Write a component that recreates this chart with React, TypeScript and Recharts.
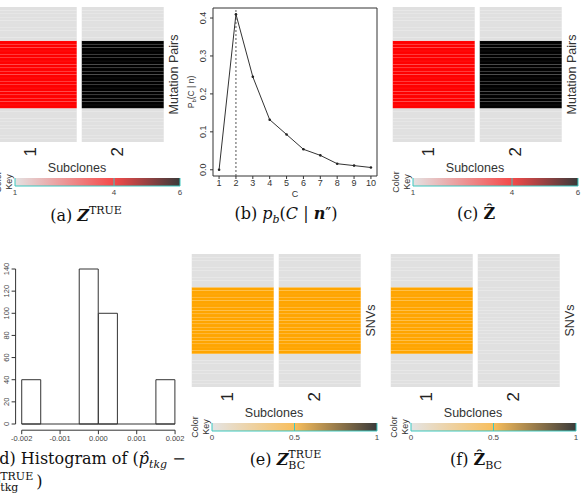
import React from "react";
import {
  BarChart,
  Bar,
  Cell,
  XAxis,
  YAxis,
  LineChart,
  Line,
  ComposedChart,
  ReferenceLine,
  ReferenceArea,
} from "recharts";

const SANS = "'Liberation Sans', Arial, Helvetica, sans-serif";
const SERIF = "'DejaVu Serif', 'Liberation Serif', serif";
const TEAL = "#3cc8c0";

// (b) posterior of number of subclones
const clusterCounts = [1, 2, 3, 4, 5, 6, 7, 8, 9, 10];
const posteriorProb = [0.0, 0.41, 0.245, 0.132, 0.093, 0.054, 0.038, 0.016, 0.011, 0.006];
const probTicks = [0, 0.1, 0.2, 0.3, 0.4];
const chosenC = 2;

// (d) histogram of p_hat - p_true
const binMids = [-0.00175, -0.00125, -0.00075, -0.00025, 0.00025, 0.00075, 0.00125, 0.00175];
const binCounts = [40, 0, 0, 140, 100, 0, 0, 40];
const diffTicks = [-0.002, -0.001, 0, 0.001, 0.002];
const countTicks = [0, 20, 40, 60, 80, 100, 120, 140];

// heatmaps (rows listed top to bottom)
const subclones = ["1", "2"];
const zTrue1 = [1, 1, 1, 1, 1, 1, 1, 1, 1, 1, 4, 4, 4, 4, 4, 4, 4, 4, 4, 4, 4, 4, 4, 4, 4, 4, 4, 4, 4, 4, 1, 1, 1, 1, 1, 1, 1, 1, 1, 1];
const zTrue2 = [1, 1, 1, 1, 1, 1, 1, 1, 1, 1, 6, 6, 6, 6, 6, 6, 6, 6, 6, 6, 6, 6, 6, 6, 6, 6, 6, 6, 6, 6, 1, 1, 1, 1, 1, 1, 1, 1, 1, 1];
const zHat1 = [1, 1, 1, 1, 1, 1, 1, 1, 1, 1, 4, 4, 4, 4, 4, 4, 4, 4, 4, 4, 4, 4, 4, 4, 4, 4, 4, 4, 4, 4, 1, 1, 1, 1, 1, 1, 1, 1, 1, 1];
const zHat2 = [1, 1, 1, 1, 1, 1, 1, 1, 1, 1, 6, 6, 6, 6, 6, 6, 6, 6, 6, 6, 6, 6, 6, 6, 6, 6, 6, 6, 6, 6, 1, 1, 1, 1, 1, 1, 1, 1, 1, 1];
const zBcTrue1 = [0, 0, 0, 0, 0, 0, 0, 0, 0, 0, 0.5, 0.5, 0.5, 0.5, 0.5, 0.5, 0.5, 0.5, 0.5, 0.5, 0.5, 0.5, 0.5, 0.5, 0.5, 0.5, 0.5, 0.5, 0.5, 0.5, 0, 0, 0, 0, 0, 0, 0, 0, 0, 0];
const zBcTrue2 = [0, 0, 0, 0, 0, 0, 0, 0, 0, 0, 0.5, 0.5, 0.5, 0.5, 0.5, 0.5, 0.5, 0.5, 0.5, 0.5, 0.5, 0.5, 0.5, 0.5, 0.5, 0.5, 0.5, 0.5, 0.5, 0.5, 0, 0, 0, 0, 0, 0, 0, 0, 0, 0];
const zBcHat1 = [0, 0, 0, 0, 0, 0, 0, 0, 0, 0, 0.5, 0.5, 0.5, 0.5, 0.5, 0.5, 0.5, 0.5, 0.5, 0.5, 0.5, 0.5, 0.5, 0.5, 0.5, 0.5, 0.5, 0.5, 0.5, 0.5, 0, 0, 0, 0, 0, 0, 0, 0, 0, 0];
const zBcHat2 = [0, 0, 0, 0, 0, 0, 0, 0, 0, 0, 0, 0, 0, 0, 0, 0, 0, 0, 0, 0, 0, 0, 0, 0, 0, 0, 0, 0, 0, 0, 0, 0, 0, 0, 0, 0, 0, 0, 0, 0];
const zKeyDomain = [1, 6];
const zKeyTicks = [1, 4, 6];
const bcKeyDomain = [0, 1];
const bcKeyTicks = [0, 0.5, 1];

// colour scales
const zCellStops: [number, string][] = [[1, "#e0e0e0"], [4, "#ff0000"], [6, "#000000"]];
const zKeyStops: [number, string][] = [[1, "#e4e2e2"], [4, "#f44a4a"], [6, "#3a3a3a"]];
const bcCellStops: [number, string][] = [[0, "#e0e0e0"], [0.5, "#ffa500"], [1, "#000000"]];
const bcKeyStops: [number, string][] = [[0, "#e4e4e4"], [0.5, "#f8be5c"], [1, "#3a3a3a"]];

function hexToRgb(h: string) {
  const n = parseInt(h.slice(1), 16);
  return [(n >> 16) & 255, (n >> 8) & 255, n & 255];
}

function colorAt(v: number, stops: [number, string][]) {
  for (let i = 0; i < stops.length - 1; i++) {
    const [v0, c0] = stops[i];
    const [v1, c1] = stops[i + 1];
    if (v <= v1) {
      const t = Math.max(0, (v - v0) / (v1 - v0));
      const a = hexToRgb(c0);
      const b = hexToRgb(c1);
      const m = a.map((x, k) => Math.round(x + (b[k] - x) * t));
      return `rgb(${m[0]},${m[1]},${m[2]})`;
    }
  }
  return stops[stops.length - 1][1];
}

const COL_W = 174; // plot width of a heatmap (two columns + gaps)

function Heatmap({
  c2,
  top,
  plotH,
  cols,
  stops,
  ylabel,
}: {
  c2: number;
  top: number;
  plotH: number;
  cols: number[][];
  stops: [number, string][];
  ylabel: string;
}) {
  const rows = cols[0].length;
  const data = subclones.map((s) => {
    const d: Record<string, string | number> = { subclone: s };
    for (let k = 0; k < rows; k++) d["r" + k] = 1;
    return d;
  });
  return (
    <div style={{ position: "absolute", left: c2 - 89.75, top }}>
      <BarChart
        width={COL_W + 30}
        height={plotH + 34}
        data={data}
        margin={{ top: 0, right: 0, bottom: 0, left: 0 }}
        barCategoryGap={2.75}
      >
        <XAxis
          dataKey="subclone"
          axisLine={false}
          tickLine={false}
          tickSize={0}
          tickMargin={0}
          height={34}
          interval={0}
          tick={(p: any) => (
            <text
              transform={`translate(${p.x},${p.y + 5}) rotate(-90)`}
              textAnchor="end"
              fontSize={17}
              fontFamily={SANS}
              fill="#222"
            >
              {p.payload.value}
            </text>
          )}
          label={(p: any) => {
            const vb = p.viewBox;
            return (
              <text
                x={vb.x + vb.width / 2 - 2}
                y={vb.y + 29.5}
                textAnchor="middle"
                fontSize={12.5}
                fontFamily={SANS}
                fill="#333"
              >
                Subclones
              </text>
            );
          }}
        />
        <YAxis
          orientation="right"
          width={30}
          domain={[0, rows]}
          allowDataOverflow
          tick={false}
          axisLine={false}
          label={(p: any) => {
            const vb = p.viewBox;
            const cx = vb.x + 12.3;
            const cy = vb.y + vb.height / 2;
            return (
              <text
                transform={`translate(${cx},${cy}) rotate(-90)`}
                textAnchor="middle"
                fontSize={12.5}
                fontFamily={SANS}
                fill="#333"
              >
                {ylabel}
              </text>
            );
          }}
        />
        {Array.from({ length: rows }, (_, k) => (
          <Bar key={k} dataKey={"r" + k} stackId="z" isAnimationActive={false}>
            {cols.map((col, j) => (
              <Cell
                key={j}
                fill={colorAt(col[rows - 1 - k], stops)}
                stroke="#ffffff"
                strokeOpacity={0.1}
                strokeWidth={0.5}
              />
            ))}
          </Bar>
        ))}
      </BarChart>
    </div>
  );
}

function ColorKey({
  c2,
  top,
  domain,
  ticks,
  stops,
  id,
}: {
  c2: number;
  top: number;
  domain: number[];
  ticks: number[];
  stops: [number, string][];
  id: string;
}) {
  const left = c2 - 67;
  const span = domain[1] - domain[0];
  return (
    <>
      <div
        style={{
          position: "absolute",
          left: c2 - 78.5 - 13,
          top: top + 4 - 11,
          width: 26,
          height: 22,
          transform: "rotate(-90deg)",
          fontFamily: SANS,
          fontSize: 9,
          lineHeight: "11px",
          textAlign: "center",
          color: "#333",
        }}
      >
        Color
        <br />
        Key
      </div>
      <div style={{ position: "absolute", left: left - 6, top }}>
        <BarChart
          layout="vertical"
          width={165 + 12}
          height={8 + 14}
          data={[{ k: "key", range: domain }]}
          margin={{ top: 0, right: 6, bottom: 0, left: 6 }}
          barCategoryGap={0}
        >
          <defs>
            <linearGradient id={id} x1="0" y1="0" x2="1" y2="0">
              {stops.map(([v, c]) => (
                <stop key={v} offset={`${((v - domain[0]) / span) * 100}%`} stopColor={c} />
              ))}
            </linearGradient>
          </defs>
          <XAxis
            type="number"
            domain={domain}
            ticks={ticks}
            allowDataOverflow
            axisLine={{ stroke: TEAL, strokeWidth: 1.2 }}
            tickLine={false}
            tickSize={0}
            tickMargin={3}
            height={14}
            tick={{ fontSize: 8, fill: "#444", fontFamily: SANS }}
          />
          <YAxis type="category" dataKey="k" hide />
          <Bar dataKey="range" fill={`url(#${id})`} isAnimationActive={false} />
          {ticks.map((t) => (
            <ReferenceLine key={t} x={t} stroke={TEAL} strokeWidth={1} />
          ))}
        </BarChart>
      </div>
    </>
  );
}

function ProbPanel() {
  const data = clusterCounts.map((c, i) => ({ c, p: posteriorProb[i] }));
  return (
    <div style={{ position: "absolute", left: 185, top: 0 }}>
      <LineChart
        width={200}
        height={200}
        data={data}
        margin={{ top: 8, right: 8, bottom: 0, left: 0 }}
      >
        <XAxis
          dataKey="c"
          type="number"
          domain={[0.64, 10.36]}
          ticks={clusterCounts}
          allowDataOverflow
          interval={0}
          axisLine={false}
          tickSize={3}
          tickMargin={1}
          height={24}
          tickLine={{ stroke: "#333" }}
          tick={{ fontSize: 9, fill: "#333", fontFamily: SANS }}
          label={(p: any) => (
            <text
              x={p.viewBox.x + p.viewBox.width / 2}
              y={p.viewBox.y + 21}
              textAnchor="middle"
              fontSize={9}
              fontFamily={SANS}
              fill="#333"
            >
              C
            </text>
          )}
        />
        <YAxis
          type="number"
          domain={[-0.0164, 0.4264]}
          ticks={probTicks}
          allowDataOverflow
          interval={0}
          axisLine={false}
          tickSize={3}
          width={28}
          tickLine={{ stroke: "#333" }}
          tick={(p: any) => (
            <text
              transform={`translate(21.2,${p.y}) rotate(-90)`}
              textAnchor="middle"
              fontSize={9}
              fontFamily={SANS}
              fill="#333"
            >
              {Number(p.payload.value).toFixed(1)}
            </text>
          )}
          label={(p: any) => (
            <text
              transform={`translate(9,${p.viewBox.y + p.viewBox.height / 2}) rotate(-90)`}
              textAnchor="middle"
              fontSize={8.5}
              fontFamily={SANS}
              fill="#333"
            >
              P
              <tspan fontSize={6} dy={2}>
                b
              </tspan>
              <tspan dy={-2}>(C | n)</tspan>
            </text>
          )}
        />
        <ReferenceArea
          x1={0.64}
          x2={10.36}
          y1={-0.0164}
          y2={0.4264}
          fill="none"
          stroke="#333"
          strokeWidth={1}
          ifOverflow="visible"
        />
        <ReferenceLine x={chosenC} stroke="#555" strokeDasharray="2 2" strokeWidth={1} />
        <Line
          dataKey="p"
          stroke="#333"
          strokeWidth={1}
          dot={{ r: 1.3, fill: "#222", stroke: "none" }}
          isAnimationActive={false}
        />
      </LineChart>
    </div>
  );
}

function HistPanel() {
  const data = binMids.map((m, i) => ({ mid: m, count: binCounts[i] }));
  const yMin = -5.6;
  const xMin = -0.00216;
  return (
    <div style={{ position: "absolute", left: 0, top: 240 }}>
      <ComposedChart
        width={190}
        height={212}
        data={data}
        margin={{ top: 22.8, right: 8.8, bottom: 0, left: 0 }}
        barCategoryGap={0}
        barGap={0}
      >
        <XAxis
          dataKey="mid"
          type="number"
          domain={[xMin, -xMin]}
          ticks={diffTicks}
          allowDataOverflow
          interval={0}
          axisLine={false}
          tickSize={4}
          tickMargin={1}
          height={21.8}
          tickLine={{ stroke: "#333" }}
          tickFormatter={(v: number) => v.toFixed(3)}
          tick={{ fontSize: 7.5, fill: "#444", fontFamily: SANS }}
        />
        <YAxis
          domain={[yMin, 145.6]}
          ticks={countTicks}
          allowDataOverflow
          interval={0}
          axisLine={false}
          tickSize={4}
          width={15.6}
          tickLine={{ stroke: "#333" }}
          tick={(p: any) => (
            <text
              transform={`translate(8.7,${p.y}) rotate(-90)`}
              textAnchor="middle"
              fontSize={7.5}
              fontFamily={SANS}
              fill="#444"
            >
              {p.payload.value}
            </text>
          )}
        />
        <Bar
          dataKey="count"
          fill="#ffffff"
          stroke="#333"
          strokeWidth={1}
          isAnimationActive={false}
        />
        <ReferenceLine
          segment={[{ x: diffTicks[0], y: 0 }, { x: diffTicks[4], y: 0 }]}
          stroke="#333"
          ifOverflow="visible"
        />
        <ReferenceLine
          segment={[{ x: diffTicks[0], y: yMin }, { x: diffTicks[4], y: yMin }]}
          stroke="#333"
          ifOverflow="visible"
        />
        <ReferenceLine
          segment={[{ x: xMin, y: countTicks[0] }, { x: xMin, y: countTicks[7] }]}
          stroke="#333"
          ifOverflow="visible"
        />
      </ComposedChart>
    </div>
  );
}

const capStyle: React.CSSProperties = {
  position: "absolute",
  fontFamily: SERIF,
  fontSize: 16,
  lineHeight: "20px",
  color: "#111",
  whiteSpace: "nowrap",
};
const sup: React.CSSProperties = { position: "relative", top: -7, fontSize: 11 };

function SupSub({ hi, lo, w }: { hi: string; lo: string; w: number }) {
  return (
    <span style={{ position: "relative", display: "inline-block", width: w, height: 0 }}>
      <span style={{ position: "absolute", left: 0, top: -17, fontSize: 11, lineHeight: "13px" }}>{hi}</span>
      <span style={{ position: "absolute", left: 0, top: -6, fontSize: 11, lineHeight: "13px" }}>{lo}</span>
    </span>
  );
}

export default function App() {
  return (
    <div
      style={{
        position: "fixed",
        left: 0,
        top: 0,
        width: 582,
        height: 500,
        overflow: "hidden",
        background: "#fff",
      }}
    >
      <Heatmap c2={82} top={7} plotH={135} cols={[zTrue1, zTrue2]} stops={zCellStops} ylabel="Mutation Pairs" />
      <Heatmap c2={480} top={7} plotH={135} cols={[zHat1, zHat2]} stops={zCellStops} ylabel="Mutation Pairs" />
      <Heatmap c2={279} top={254} plotH={133} cols={[zBcTrue1, zBcTrue2]} stops={bcCellStops} ylabel="SNVs" />
      <Heatmap c2={478} top={254} plotH={133} cols={[zBcHat1, zBcHat2]} stops={bcCellStops} ylabel="SNVs" />
      <ColorKey c2={82} top={178} domain={zKeyDomain} ticks={zKeyTicks} stops={zKeyStops} id="keyA" />
      <ColorKey c2={480} top={178} domain={zKeyDomain} ticks={zKeyTicks} stops={zKeyStops} id="keyC" />
      <ColorKey c2={279} top={423} domain={bcKeyDomain} ticks={bcKeyTicks} stops={bcKeyStops} id="keyE" />
      <ColorKey c2={478} top={423} domain={bcKeyDomain} ticks={bcKeyTicks} stops={bcKeyStops} id="keyF" />
      <ProbPanel />
      <HistPanel />

      <div style={{ ...capStyle, left: 26, width: 120, textAlign: "center", top: 206 }}>
        (a)&nbsp;
        <b>
          <i>Z</i>
        </b>
        <span style={sup}>TRUE</span>
      </div>
      <div style={{ ...capStyle, left: 226, width: 120, textAlign: "center", top: 204 }}>
        (b)&nbsp;<i>p</i>
        <sub style={{ fontSize: 11, fontStyle: "italic", lineHeight: 0 }}>b</sub>(<i>C</i>&nbsp;|&nbsp;
        <b>
          <i>n</i>
        </b>
        ″)
      </div>
      <div style={{ ...capStyle, left: 416, width: 120, textAlign: "center", top: 204 }}>
        (c)&nbsp;<b>Ẑ</b>
      </div>
      <div style={{ ...capStyle, left: -7, top: 449 }}>
        (d) Histogram of (<i>p̂</i>
        <sub style={{ fontSize: 11, fontStyle: "italic", lineHeight: 0 }}>tkg</sub> −
      </div>
      <div style={{ ...capStyle, left: -10, top: 472 }}>
        <i>p</i>
        <SupSub hi="TRUE" lo="tkg" w={36} />)
      </div>
      <div style={{ ...capStyle, left: 226, width: 120, textAlign: "center", top: 450 }}>
        (e)&nbsp;
        <b>
          <i>Z</i>
        </b>
        <SupSub hi="TRUE" lo="BC" w={34} />
      </div>
      <div style={{ ...capStyle, left: 416, width: 120, textAlign: "center", top: 450 }}>
        (f)&nbsp;<b>Ẑ</b>
        <sub style={{ fontSize: 11, lineHeight: 0 }}>BC</sub>
      </div>
    </div>
  );
}
